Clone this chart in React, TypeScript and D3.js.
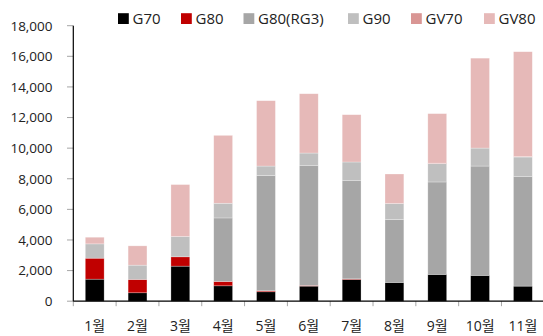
import React from "react";
import * as d3 from "d3";

const months = ["1월", "2월", "3월", "4월", "5월", "6월", "7월", "8월", "9월", "10월", "11월"];
const seriesNames = ["G70", "G80", "G80(RG3)", "G90", "GV70", "GV80"];
const seriesColors = ["#000000", "#c00000", "#a6a6a6", "#bfbfbf", "#d99694", "#e6b9b8"];
const g70 = [1440, 550, 2290, 1005, 615, 985, 1420, 1225, 1750, 1685, 985];
const g80 = [1370, 870, 610, 285, 65, 45, 40, 0, 0, 0, 0];
const g80rg3 = [0, 0, 0, 4150, 7525, 7850, 6440, 4110, 6040, 7145, 7175];
const g90 = [935, 935, 1325, 960, 625, 800, 1195, 1045, 1200, 1175, 1260];
const gv70 = [0, 0, 0, 0, 0, 0, 0, 0, 30, 0, 30];
const gv80 = [435, 1260, 3395, 4435, 4270, 3875, 3090, 1930, 3235, 5875, 6850];
const yTicks = [0, 2000, 4000, 6000, 8000, 10000, 12000, 14000, 16000, 18000];

const font = "'Open Sans', 'Noto Sans CJK KR', sans-serif";

export default function App() {
  const W = 543, H = 336;
  const left = 73.3, right = 544.3, top = 25.7, bottom = 301.2;
  const all = [g70, g80, g80rg3, g90, gv70, gv80];
  const rows = months.map((m, i) => {
    const r: any = { m };
    seriesNames.forEach((s, k) => (r[s] = all[k][i]));
    return r;
  });
  const stack = d3.stack().keys(seriesNames)(rows);
  const x = d3.scaleBand().domain(months).range([left, right]).paddingInner(0.56).paddingOuter(0.28);
  const y = d3.scaleLinear().domain([0, 18000]).range([bottom, top]);
  const step = (right - left) / months.length;
  const legendX = [118, 181, 243.5, 348, 411, 484];

  return (
    <svg width={W} height={H} style={{ position: "absolute", left: 0, top: 0 }}>
      <rect width={W} height={H} fill="#fff" />
      {stack.map((layer, k) => (
        <g key={k}>
          {layer.map((d, i) =>
            d[1] - d[0] > 0 ? (
              <rect
                key={i}
                x={x(months[i])}
                width={x.bandwidth()}
                y={y(d[1])}
                height={y(d[0]) - y(d[1])}
                fill={seriesColors[k]}
                stroke="#ffffff"
                strokeOpacity={0.45}
                strokeWidth={0.6}
              />
            ) : null
          )}
        </g>
      ))}
      {yTicks.map((t) => (
        <g key={t}>
          <line x1={67} x2={left} y1={y(t)} y2={y(t)} stroke="#a6a6a6" strokeWidth={1} />
          <text x={52.5} y={y(t)} dy="0.36em" textAnchor="end" fontFamily={font} fontSize={13.5} fill="#222">
            {d3.format(",")(t)}
          </text>
        </g>
      ))}
      {months.map((m, i) => (
        <g key={m}>
          <line x1={left + step * (i + 1)} x2={left + step * (i + 1)} y1={bottom} y2={bottom + 5} stroke="#a6a6a6" />
          <text x={(x(m) as number) + x.bandwidth() / 2} y={331} textAnchor="middle" fontFamily={font} fontSize={14} fill="#222">
            {m}
          </text>
        </g>
      ))}
      <line x1={left} x2={left} y1={bottom + 5} y2={bottom} stroke="#a6a6a6" />
      <line x1={left} x2={left} y1={top} y2={bottom} stroke="#000" strokeWidth={1.2} />
      <line x1={left} x2={W} y1={bottom} y2={bottom} stroke="#000" strokeWidth={1.2} />
      {seriesNames.map((s, k) => (
        <g key={s}>
          <rect x={legendX[k]} y={13.2} width={10.8} height={10.8} fill={seriesColors[k]} />
          <text x={legendX[k] + 14.5} y={24.2} fontFamily={font} fontSize={15} fill="#222">
            {s}
          </text>
        </g>
      ))}
    </svg>
  );
}
